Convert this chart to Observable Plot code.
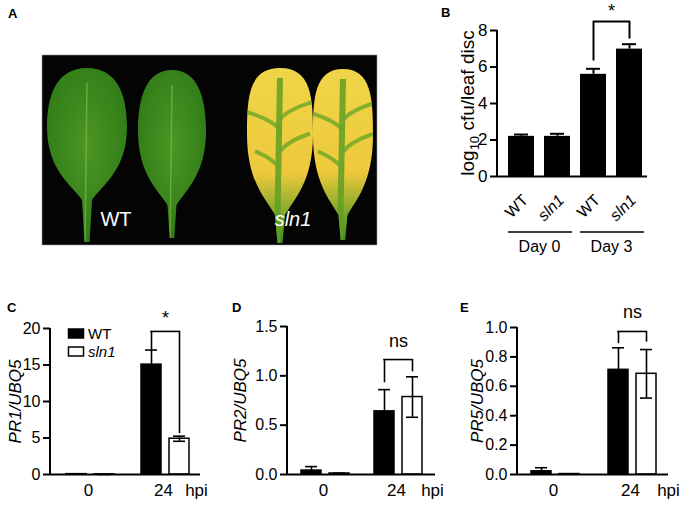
<!DOCTYPE html>
<html><head><meta charset="utf-8">
<script src="https://cdn.jsdelivr.net/npm/d3@7"></script>
<script src="https://cdn.jsdelivr.net/npm/@observablehq/plot@0.6"></script>
<style>
body{margin:0;background:#fff;font-family:"Liberation Sans",Arial,sans-serif;}
#fig{position:relative;width:680px;height:507px;overflow:hidden;background:#fff;}
.plab{position:absolute;font-weight:bold;font-size:13px;line-height:13px;color:#000;}
</style></head><body><div id="fig"></div>
<script>
// ---------- DATA ----------
// Panel B: bacterial growth (log10 cfu/leaf disc)
const bDays = ["Day 0", "Day 0", "Day 3", "Day 3"];
const bGenotypes = ["WT", "sln1", "WT", "sln1"];
const bMeans = [2.2, 2.2, 5.6, 6.98];
const bErrors = [0.1, 0.14, 0.3, 0.27];
const bTicks = [0, 2, 4, 6, 8];
const bSignif = "*";
const bBracket = [8.5, 6.4, 7.6]; // level, left end, right end

// Panels C–E: expression relative to UBQ5
const hpi = ["0", "24"];
const genotypes = ["WT", "sln1"];

const pr1WT = [0.05, 15.05], pr1WTErr = [0.02, 2.0];
const pr1Sln1 = [0.02, 4.9], pr1Sln1Err = [0.01, 0.35];
const pr1Ticks = [0, 5, 10, 15, 20];
const pr1Bracket = [19.6, 17.1, 5.6];

const pr2WT = [0.04, 0.64], pr2WTErr = [0.04, 0.22];
const pr2Sln1 = [0.01, 0.785], pr2Sln1Err = [0.003, 0.205];
const pr2Ticks = [0, 0.5, 1.0, 1.5];
const pr2Bracket = [1.165, 0.93, 1.04];

const pr5WT = [0.022, 0.712], pr5WTErr = [0.024, 0.15];
const pr5Sln1 = [0.003, 0.685], pr5Sln1Err = [0.001, 0.165];
const pr5Ticks = [0, 0.2, 0.4, 0.6, 0.8, 1.0];
const pr5Bracket = [0.973, 0.89, 0.9];

// ---------- HELPERS ----------
const FONT = "Liberation Sans, Arial, sans-serif";
const fig = document.getElementById("fig");
function place(node, left, top) {
  node.style.position = "absolute";
  node.style.left = left + "px";
  node.style.top = top + "px";
  fig.appendChild(node);
}
function panelLetter(t, left, top) {
  const d = document.createElement("div");
  d.className = "plab"; d.textContent = t;
  d.style.left = left + "px"; d.style.top = top + "px";
  fig.appendChild(d);
}

// ---------- PANEL A (photograph, drawn schematically) ----------
(function () {
  const svg = d3.create("svg").attr("width", 440).attr("height", 300)
    .style("font-family", FONT);
  const defs = svg.append("defs");
  const gG = defs.append("radialGradient").attr("id", "gGreen").attr("cx", "50%").attr("cy", "45%").attr("r", "60%");
  gG.append("stop").attr("offset", "0%").attr("stop-color", "#4c9624");
  gG.append("stop").attr("offset", "100%").attr("stop-color", "#2e7a16");
  const gY = defs.append("linearGradient").attr("id", "gYellow").attr("x1", 0).attr("y1", 0).attr("x2", 0).attr("y2", 1);
  gY.append("stop").attr("offset", "0%").attr("stop-color", "#f0d548");
  gY.append("stop").attr("offset", "60%").attr("stop-color", "#eec93c");
  gY.append("stop").attr("offset", "82%").attr("stop-color", "#86aa2c");
  gY.append("stop").attr("offset", "100%").attr("stop-color", "#3f8d1d");

  svg.append("rect").attr("x", 42).attr("y", 55).attr("width", 335).attr("height", 190)
    .attr("fill", "#040404").attr("stroke", "#999").attr("stroke-width", 0.6);

  function leafPath(cx, t, bb, tip, w, pw, k) {
    const h = bb - t;
    return `M${cx},${t}
      C${cx + w * k},${t} ${cx + w},${t + h * 0.2} ${cx + w},${t + h * 0.45}
      C${cx + w},${t + h * 0.78} ${cx + pw + 8},${bb - h * 0.1} ${cx + pw},${bb}
      L${cx + pw * 0.5},${tip} L${cx - pw * 0.5},${tip} L${cx - pw},${bb}
      C${cx - pw - 8},${bb - h * 0.1} ${cx - w},${t + h * 0.78} ${cx - w},${t + h * 0.45}
      C${cx - w},${t + h * 0.2} ${cx - w * k},${t} ${cx},${t}Z`;
  }
  const leaves = [
    {cx: 87, t: 68, bb: 200, tip: 242, w: 40, pw: 5, k: 0.75, y: false},
    {cx: 172, t: 70, bb: 205, tip: 238, w: 34, pw: 4.5, k: 0.75, y: false},
    {cx: 280, t: 68, bb: 215, tip: 243, w: 33, pw: 5, k: 0.95, y: true},
    {cx: 343, t: 69, bb: 215, tip: 240, w: 30, pw: 4.5, k: 0.95, y: true}
  ];
  leaves.forEach((L, i) => {
    const p = leafPath(L.cx, L.t, L.bb, L.tip, L.w, L.pw, L.k);
    defs.append("clipPath").attr("id", "leafclip" + i).append("path").attr("d", p);
    svg.append("path").attr("d", p).attr("fill", L.y ? "url(#gYellow)" : "url(#gGreen)");
    const g = svg.append("g").attr("clip-path", `url(#leafclip${i})`);
    if (L.y) {
      g.append("path").attr("d", `M${L.cx},${L.t + 10} L${L.cx - 3},${L.tip}`)
        .attr("stroke", "#5f9f22").attr("stroke-width", 6).attr("fill", "none").attr("opacity", 0.85);
      [[-14, 0.35], [12, 0.5], [-10, 0.62], [14, 0.28]].forEach(([dx, f]) => {
        const yy = L.t + (L.bb - L.t) * f;
        g.append("path").attr("d", `M${L.cx},${yy + 10} Q${L.cx + dx * 0.6},${yy} ${L.cx + dx * 2.5},${yy - 8}`)
          .attr("stroke", "#6aa628").attr("stroke-width", 4).attr("fill", "none").attr("opacity", 0.8);
      });
    } else {
      g.append("path").attr("d", `M${L.cx},${L.t + 15} L${L.cx - 2},${L.tip}`)
        .attr("stroke", "#7cb84a").attr("stroke-width", 1.5).attr("fill", "none").attr("opacity", 0.7);
    }
  });
  svg.append("text").attr("x", 116).attr("y", 226).attr("text-anchor", "middle")
    .attr("fill", "#fff").attr("font-size", 20).text("WT");
  svg.append("text").attr("x", 293).attr("y", 226).attr("text-anchor", "middle")
    .attr("fill", "#fff").attr("font-size", 20).attr("font-style", "italic").text("sln1");
  place(svg.node(), 0, 0);
})();

// ---------- PANEL B ----------
(function () {
  const keys = bDays.map((d, i) => d + "|" + bGenotypes[i]);
  const rows = keys.map((k, i) => ({key: k, day: bDays[i], genotype: bGenotypes[i], mean: bMeans[i], err: bErrors[i]}));
  const dayKeys = Array.from(new Set(bDays));
  const dayRows = dayKeys.map(d => ({day: d, first: keys[bDays.indexOf(d)], last: keys[bDays.lastIndexOf(d)]}));
  const bracket = [
    {key: keys[2], v: bBracket[1]}, {key: keys[2], v: bBracket[0]},
    {key: keys[3], v: bBracket[0]}, {key: keys[3], v: bBracket[2]}
  ];
  const W = 240, H = 270, mL = 57, mR = 33, mT = 30, mB = 94;
  const plot = Plot.plot({
    width: W, height: H, marginLeft: mL, marginRight: mR, marginTop: mT, marginBottom: mB,
    style: {fontFamily: FONT, fontSize: "15px", color: "#000", background: "none", overflow: "visible"},
    x: {type: "band", domain: keys, range: [67, 202], paddingInner: 0.29, paddingOuter: 0, axis: null},
    y: {domain: [0, 8], axis: null},
    marks: [
      Plot.barY(rows, {x: "key", y: "mean", fill: "#000"}),
      Plot.ruleX(rows, {x: "key", y1: "mean", y2: d => d.mean + d.err, stroke: "#000", strokeWidth: 2}),
      Plot.tickY(rows, {x: "key", y: d => d.mean + d.err, inset: 6, stroke: "#000", strokeWidth: 2}),
      Plot.ruleY([0], {stroke: "#000", strokeWidth: 2}),
      Plot.axisY({ticks: bTicks, tickSize: 7, strokeWidth: 2, label: null, tickFormat: () => ""}),
      Plot.text(bTicks, {y: d => d, text: d => String(d), frameAnchor: "left", dx: -10, textAnchor: "end", fontSize: 17}),
      Plot.line(bracket, {x: "key", y: "v", stroke: "#000", strokeWidth: 2}),
      Plot.text([bSignif], {x: () => keys[2], y: () => bBracket[0], text: d => d, dx: 18, dy: -10, fontSize: 18}),
      Plot.text(rows.filter(d => d.genotype === "WT"), {x: "key", y: () => 0, text: "genotype", rotate: -45, textAnchor: "end", dy: 21, dx: 4, fontSize: 16}),
      Plot.text(rows.filter(d => d.genotype !== "WT"), {x: "key", y: () => 0, text: "genotype", rotate: -45, textAnchor: "end", dy: 21, dx: 4, fontSize: 16, fontStyle: "italic"}),
      Plot.text(dayRows, {x: "first", text: "day", frameAnchor: "bottom", dx: 18, dy: 75, fontSize: 16})
    ]
  });
  const x = plot.scale("x"), y = plot.scale("y");
  const svg = d3.select(plot);
  // y axis line
  svg.append("line").attr("x1", mL).attr("x2", mL).attr("y1", y.apply(0) + 1).attr("y2", y.apply(8))
    .attr("stroke", "#000").attr("stroke-width", 2);
  // group underlines
  dayRows.forEach(r => {
    svg.append("line").attr("x1", x.apply(r.first)).attr("x2", x.apply(r.last) + x.bandwidth + 2)
      .attr("y1", 232).attr("y2", 232).attr("stroke", "#000").attr("stroke-width", 1.5);
  });
  // y label with subscript
  const t = svg.append("text").attr("transform", `translate(27,${(y.apply(0) + y.apply(8)) / 2}) rotate(-90)`)
    .attr("text-anchor", "middle").attr("dy", "0.35em").attr("font-size", 19).attr("fill", "#000");
  t.append("tspan").text("log");
  t.append("tspan").attr("font-size", 13).attr("dy", 5).text("10");
  t.append("tspan").attr("dy", -5).text(" cfu/leaf disc");
  place(plot, 440, 0);
})();

// ---------- PANELS C–E ----------
function exprPanel(cfg) {
  const rowsWT = hpi.map((h, i) => ({hpi: h, genotype: "WT", mean: cfg.wt[i], err: cfg.wtErr[i]}));
  const rowsSl = hpi.map((h, i) => ({hpi: h, genotype: "sln1", mean: cfg.sl[i], err: cfg.slErr[i]}));
  const bw = 2 * cfg.barW + cfg.gap;
  const len = cfg.range[1] - cfg.range[0];
  const step = len - bw;
  const pi = 1 - bw / step;
  const off = (cfg.barW + cfg.gap) / 2;
  const capInset = bw / 2 - 6;
  const [lev, lEnd, rEnd] = cfg.bracket;
  const br = [{hpi: "24", lev, lEnd, rEnd}];
  const marks = [
    Plot.barY(rowsWT, {x: "hpi", y: "mean", fill: "#000", stroke: "#000", strokeWidth: 1.5, insetRight: cfg.barW + cfg.gap}),
    Plot.barY(rowsSl, {x: "hpi", y: "mean", fill: "#fff", stroke: "#000", strokeWidth: 1.5, insetLeft: cfg.barW + cfg.gap}),
    Plot.ruleX(rowsWT, {x: "hpi", y1: "mean", y2: d => d.mean + d.err, dx: -off, stroke: "#000", strokeWidth: 1.6}),
    Plot.tickY(rowsWT, {x: "hpi", y: d => d.mean + d.err, dx: -off, inset: capInset, stroke: "#000", strokeWidth: 1.6}),
    Plot.ruleX(rowsSl, {x: "hpi", y1: d => d.mean - d.err, y2: d => d.mean + d.err, dx: off, stroke: "#000", strokeWidth: 1.6}),
    Plot.tickY(rowsSl, {x: "hpi", y: d => d.mean + d.err, dx: off, inset: capInset, stroke: "#000", strokeWidth: 1.6}),
    Plot.tickY(rowsSl, {x: "hpi", y: d => d.mean - d.err, dx: off, inset: capInset, stroke: "#000", strokeWidth: 1.6}),
    Plot.ruleY([0], {stroke: "#000", strokeWidth: 2}),
    Plot.axisY({ticks: cfg.ticks, tickSize: 7, strokeWidth: 2, label: null, tickFormat: () => ""}),
    Plot.text(cfg.ticks, {y: d => d, text: d => cfg.fmt(d), frameAnchor: "left", dx: -10, textAnchor: "end", fontSize: 16}),
    Plot.text(hpi, {x: d => d, text: d => d, frameAnchor: "bottom", dy: 21, dx: -2, fontSize: 17}),
    Plot.text(["hpi"], {frameAnchor: "bottom-right", text: d => d, dx: cfg.hpiDx, dy: 21, fontSize: 17, textAnchor: "middle"}),
    Plot.ruleX(br, {x: "hpi", y1: "lEnd", y2: "lev", dx: -off, stroke: "#000", strokeWidth: 1.6}),
    Plot.ruleX(br, {x: "hpi", y1: "rEnd", y2: "lev", dx: off, stroke: "#000", strokeWidth: 1.6}),
    Plot.tickY(br, {x: "hpi", y: "lev", insetLeft: cfg.barW / 2 - 0.8, insetRight: cfg.barW / 2 - 0.8, stroke: "#000", strokeWidth: 1.6}),
    Plot.text(br, {x: "hpi", y: "lev", text: () => cfg.sig, dy: cfg.sigDy, fontSize: 18}),
    Plot.text([cfg.label], {frameAnchor: "left", text: d => d, rotate: -90, dx: cfg.labelDx, fontSize: 17, fontStyle: "italic", textAnchor: "middle"})
  ];
  const plot = Plot.plot({
    width: cfg.width, height: 207, marginLeft: cfg.mL, marginRight: cfg.mR, marginTop: cfg.mT, marginBottom: 33,
    style: {fontFamily: FONT, fontSize: "15px", color: "#000", background: "none", overflow: "visible"},
    x: {type: "band", domain: hpi, range: cfg.range, paddingInner: pi, paddingOuter: 0, axis: null},
    y: {domain: [cfg.ticks[0], cfg.ticks[cfg.ticks.length - 1]], axis: null},
    marks
  });
  const y = plot.scale("y");
  const svg = d3.select(plot);
  svg.append("line").attr("x1", cfg.mL).attr("x2", cfg.mL)
    .attr("y1", y.apply(cfg.ticks[0]) + 1).attr("y2", y.apply(cfg.ticks[cfg.ticks.length - 1]))
    .attr("stroke", "#000").attr("stroke-width", 2);
  if (cfg.legend) {
    const lg = svg.append("g").attr("font-size", 15).attr("font-family", FONT).attr("text-anchor", "start");
    genotypes.forEach((g, i) => {
      lg.append("rect").attr("x", 68.5).attr("y", 29 + i * 18).attr("width", 15).attr("height", 9)
        .attr("fill", i === 0 ? "#000" : "#fff").attr("stroke", "#000").attr("stroke-width", 1.5);
      lg.append("text").attr("x", 88).attr("y", 33.5 + i * 18).attr("dy", "0.35em")
        .attr("font-style", i === 0 ? "normal" : "italic").text(g);
    });
  }
  place(plot, cfg.left, 300);
}

exprPanel({left: 0, width: 225, mL: 50, mR: 25, mT: 28, range: [66, 189], barW: 20, gap: 8,
  wt: pr1WT, wtErr: pr1WTErr, sl: pr1Sln1, slErr: pr1Sln1Err, ticks: pr1Ticks, fmt: d3.format("d"),
  bracket: pr1Bracket, sig: "*", sigDy: -13, label: "PR1/UBQ5", labelDx: -35, hpiDx: -4, legend: true});
exprPanel({left: 225, width: 225, mL: 62, mR: 15, mT: 26, range: [76, 197], barW: 20, gap: 8,
  wt: pr2WT, wtErr: pr2WTErr, sl: pr2Sln1, slErr: pr2Sln1Err, ticks: pr2Ticks, fmt: d3.format(".1f"),
  bracket: pr2Bracket, sig: "ns", sigDy: -18, label: "PR2/UBQ5", labelDx: -47, hpiDx: -3, legend: false});
exprPanel({left: 450, width: 230, mL: 67, mR: 12, mT: 27, range: [80.5, 206], barW: 20, gap: 8,
  wt: pr5WT, wtErr: pr5WTErr, sl: pr5Sln1, slErr: pr5Sln1Err, ticks: pr5Ticks, fmt: d3.format(".1f"),
  bracket: pr5Bracket, sig: "ns", sigDy: -19, label: "PR5/UBQ5", labelDx: -40, hpiDx: 0, legend: false});

panelLetter("A", 8, 7);
panelLetter("B", 441, 6);
panelLetter("C", 7, 301);
panelLetter("D", 232, 301);
panelLetter("E", 460, 301);
</script></body></html>
